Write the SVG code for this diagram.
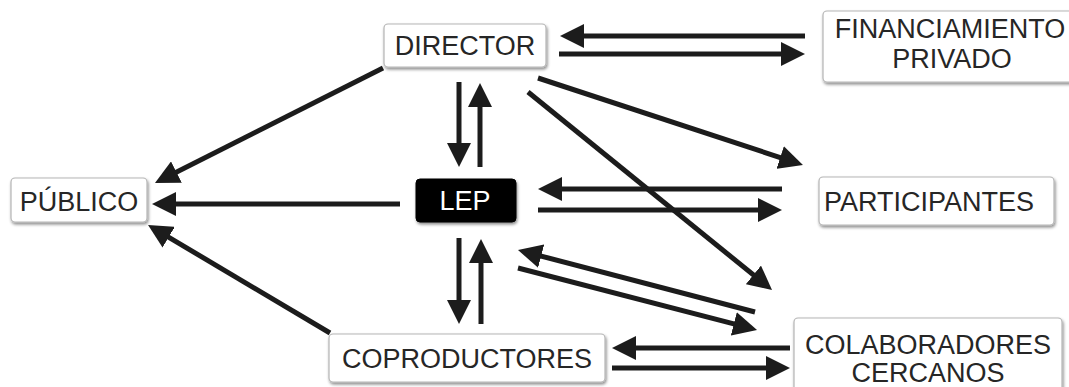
<svg xmlns="http://www.w3.org/2000/svg" width="1069" height="387" viewBox="0 0 1069 387">
<style>
.box{fill:#fff;stroke:#b5b5b5;stroke-width:1.2;filter:url(#sh)}
.dark{fill:#000;stroke:#000;filter:url(#sh)}
.t{font-family:"Liberation Sans",Arial,sans-serif;font-size:27px;fill:#262626;text-anchor:middle}
.tw{font-family:"Liberation Sans",Arial,sans-serif;font-size:27px;fill:#fff;text-anchor:middle}
.c line{stroke:#1c1c1c;stroke-width:5;marker-end:url(#ah)}
</style>
<defs>
<filter id="sh" x="-10%" y="-20%" width="130%" height="160%">
<feDropShadow dx="1" dy="2" stdDeviation="1.5" flood-color="#000" flood-opacity="0.45"/>
</filter>
<marker id="ah" markerUnits="userSpaceOnUse" markerWidth="24" markerHeight="24" refX="13" refY="12" orient="auto">
<path d="M0,0 L24,12 L0,24 z" fill="#1c1c1c"/>
</marker>
</defs>
<rect width="1069" height="387" fill="#fff"/>
<g class="c" id="connectors">
<line x1="805" y1="36" x2="571" y2="36"/>
<line x1="559" y1="54" x2="794" y2="54"/>
<line x1="459" y1="82" x2="459" y2="156"/>
<line x1="480" y1="167" x2="480" y2="94"/>
<line x1="459" y1="238" x2="459" y2="313"/>
<line x1="481" y1="324" x2="481" y2="250"/>
<line x1="383" y1="68" x2="164.8" y2="178"/>
<line x1="400" y1="204" x2="163" y2="204"/>
<line x1="330" y1="333" x2="157.5" y2="230.6"/>
<line x1="538" y1="78" x2="792.5" y2="161.6"/>
<line x1="528" y1="92" x2="763.5" y2="283.1"/>
<line x1="782" y1="189" x2="549" y2="189"/>
<line x1="538" y1="210" x2="771" y2="210"/>
<line x1="755" y1="312" x2="528.6" y2="252.8"/>
<line x1="518" y1="268" x2="746.4" y2="327.2"/>
<line x1="790" y1="348" x2="623" y2="348"/>
<line x1="612" y1="368" x2="779" y2="368"/>
</g>
<g id="director"><rect class="box" x="384" y="24" width="162" height="43" rx="4"/><text class="t" x="465" y="55">DIRECTOR</text></g>
<g id="financiamiento"><rect class="box" x="823" y="11" width="256" height="71" rx="4"/><text class="t" x="950" y="38">FINANCIAMIENTO</text><text class="t" x="952" y="68">PRIVADO</text></g>
<g id="publico"><rect class="box" x="11" y="178" width="136" height="44" rx="4"/><text class="t" x="79" y="211">PÚBLICO</text></g>
<g id="lep"><rect class="dark" x="416" y="179" width="100" height="43" rx="4"/><text class="tw" x="465" y="210">LEP</text></g>
<g id="participantes"><rect class="box" x="819" y="177" width="235" height="48" rx="4"/><text class="t" x="929" y="211">PARTICIPANTES</text></g>
<g id="coproductores"><rect class="box" x="329" y="334" width="276" height="48" rx="4"/><text class="t" x="467" y="368">COPRODUCTORES</text></g>
<g id="colaboradores"><rect class="box" x="794" y="318" width="268" height="80" rx="4"/><text class="t" x="928" y="354">COLABORADORES</text><text class="t" x="928" y="382">CERCANOS</text></g>
</svg>
